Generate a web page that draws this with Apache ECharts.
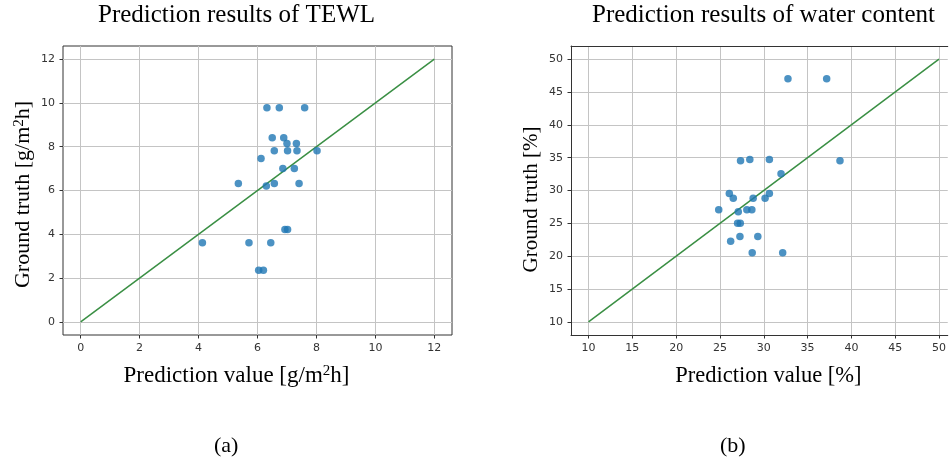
<!DOCTYPE html>
<html>
<head>
<meta charset="utf-8">
<script src="https://cdn.jsdelivr.net/npm/echarts@6/dist/echarts.min.js"></script>
<style>
  html, body { margin: 0; padding: 0; background: #fff; }
  #chart { width: 949px; height: 461px; }
</style>
</head>
<body>
<div id="chart"></div>
<script>
// TEWL (a): prediction vs ground truth
var tewlPred  = [6.32, 6.74, 7.60, 6.50, 6.89, 7.00, 7.32, 6.57, 7.02, 7.34, 8.02, 6.12, 6.86, 7.25, 5.35, 6.30, 6.57, 7.41, 6.93, 7.02, 4.13, 5.71, 6.45, 6.04, 6.20];
var tewlTruth = [9.78, 9.78, 9.78, 8.41, 8.41, 8.15, 8.15, 7.81, 7.81, 7.81, 7.81, 7.46, 7.01, 7.01, 6.32, 6.21, 6.32, 6.32, 4.22, 4.22, 3.61, 3.61, 3.61, 2.36, 2.36];
var tewlIdeal = [0, 12];
var tewlTicks = [0, 2, 4, 6, 8, 10, 12];

// water content (b)
var waterPred  = [32.76, 37.18, 27.35, 28.41, 30.64, 38.70, 31.97, 26.07, 26.52, 28.79, 30.15, 30.64, 24.86, 27.09, 28.07, 28.64, 27.01, 27.32, 27.28, 29.32, 26.22, 28.68, 32.16];
var waterTruth = [47.0, 47.0, 34.52, 34.72, 34.72, 34.52, 32.54, 29.54, 28.83, 28.83, 28.83, 29.54, 27.06, 26.75, 27.06, 27.06, 25.03, 25.03, 23.0, 23.0, 22.28, 20.51, 20.51];
var waterIdeal = [10, 50];
var waterTicks = [10, 15, 20, 25, 30, 35, 40, 45, 50];

function pairs(xs, ys) {
  return xs.map(function (x, i) { return [x, ys[i]]; });
}

var serif = 'Liberation Serif';
var sans = 'DejaVu Sans';

function valueAxis(gridIndex, min, max, ticks, name, nameGap, pad, showLine, size) {
  return {
    type: 'value',
    gridIndex: gridIndex,
    min: min,
    max: max,
    name: name,
    nameLocation: 'middle',
    nameGap: nameGap,
    nameTextStyle: {
      fontFamily: serif, fontSize: size, color: '#000', padding: pad,
      rich: { sup: { fontFamily: serif, fontSize: Math.round(size * 0.66), color: '#000', verticalAlign: 'top' } }
    },
    axisLine: { show: showLine, onZero: false, lineStyle: { color: '#333', width: 1 } },
    axisTick: { show: true, inside: false, length: 3.5, lineStyle: { color: '#333', width: 1 }, customValues: ticks },
    axisLabel: { fontFamily: sans, fontSize: 11, color: '#333', margin: 8, customValues: ticks },
    splitLine: { show: true, lineStyle: { color: '#c4c4c4', width: 1 } }
  };
}

var chart = echarts.init(document.getElementById('chart'), null, { renderer: 'canvas' });

chart.setOption({
  animation: false,
  backgroundColor: '#fff',
  grid: [
    { left: 63, top: 46, width: 389, height: 289, show: true, borderColor: '#333', borderWidth: 1, backgroundColor: 'transparent' },
    { left: 571, top: 46, width: 378, height: 289, show: false }
  ],
  xAxis: [
    valueAxis(0, -0.6, 12.6, tewlTicks, 'Prediction value [g/m{sup|2}h]', 29, [0, 42, 0, 0], false, 23),
    valueAxis(1, 8, 51, waterTicks, 'Prediction value [%]', 30, [0, 0, 0, 18], true, 22.5),
    {
      type: 'value', gridIndex: 1, position: 'top', min: 8, max: 51,
      axisLine: { show: true, onZero: false, lineStyle: { color: '#333', width: 1 } },
      axisTick: { show: false }, axisLabel: { show: false }, splitLine: { show: false }
    }
  ],
  yAxis: [
    valueAxis(0, -0.6, 12.6, tewlTicks, 'Ground truth [g/m{sup|2}h]', 29, [0, 8, 0, 0], false, 22),
    valueAxis(1, 8, 52, waterTicks, 'Ground truth [%]', 29, [0, 18, 0, 0], true, 21)
  ],
  graphic: [
    { type: 'text', left: 98, top: 3, style: { text: 'Prediction results of TEWL', font: '25px "Liberation Serif"', fill: '#000' } },
    { type: 'text', left: 592, top: 3, style: { text: 'Prediction results of water content', font: '25px "Liberation Serif"', fill: '#000' } },
    { type: 'text', left: 214, top: 435, style: { text: '(a)', font: '22px "Liberation Serif"', fill: '#000' } },
    { type: 'text', left: 720, top: 435, style: { text: '(b)', font: '22px "Liberation Serif"', fill: '#000' } }
  ],
  series: [
    {
      type: 'line', xAxisIndex: 0, yAxisIndex: 0,
      data: pairs(tewlIdeal, tewlIdeal),
      symbol: 'none', lineStyle: { color: '#3a8f44', width: 1.5 }, z: 2
    },
    {
      type: 'scatter', xAxisIndex: 0, yAxisIndex: 0,
      data: pairs(tewlPred, tewlTruth),
      symbolSize: 7.5, itemStyle: { color: '#1f77b4' }, z: 3
    },
    {
      type: 'line', xAxisIndex: 1, yAxisIndex: 1,
      data: pairs(waterIdeal, waterIdeal),
      symbol: 'none', lineStyle: { color: '#3a8f44', width: 1.5 }, z: 2
    },
    {
      type: 'scatter', xAxisIndex: 1, yAxisIndex: 1,
      data: pairs(waterPred, waterTruth),
      symbolSize: 7.5, itemStyle: { color: '#1f77b4' }, z: 3
    }
  ]
});
</script>
</body>
</html>
